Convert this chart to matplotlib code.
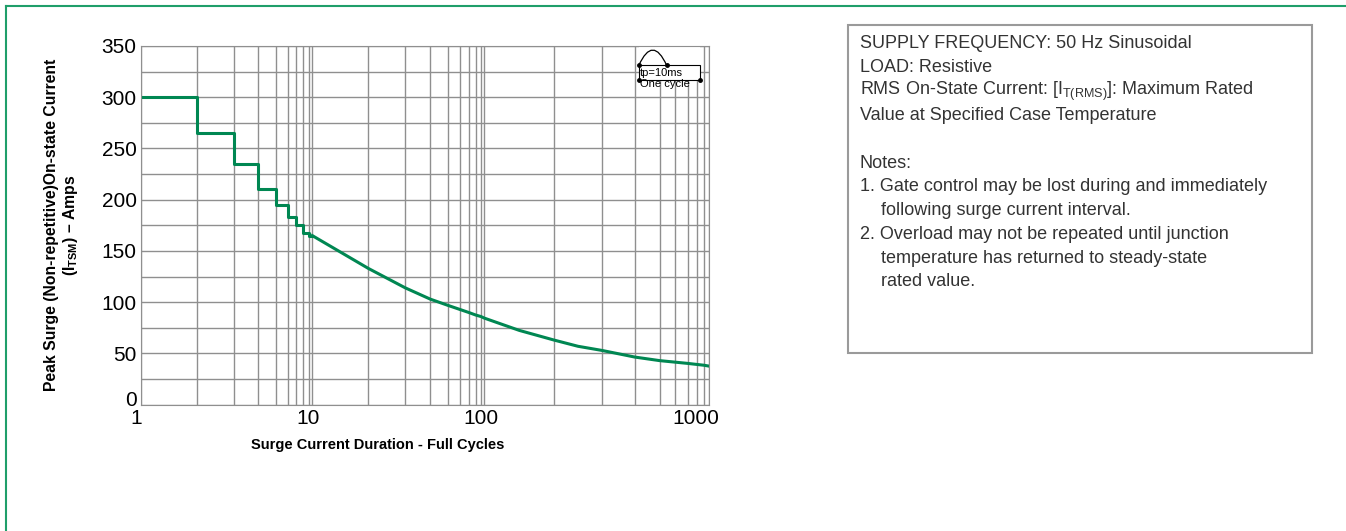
import numpy as np
import matplotlib
matplotlib.use("Agg")
import matplotlib.pyplot as plt
from matplotlib.lines import Line2D
from matplotlib.patches import Rectangle
from matplotlib.transforms import ScaledTranslation

plt.rcParams['font.family'] = ['Liberation Sans', 'DejaVu Sans']
plt.rcParams['mathtext.fontset'] = 'custom'
plt.rcParams['mathtext.rm'] = 'Liberation Sans'

# data
step_cycles = [1, 2, 3, 4, 5, 6, 7, 8, 9, 10]
step_amps = [300, 265, 235, 210, 195, 183, 175, 168, 165]
curve_cycles = [10, 20, 30, 40, 50, 60, 70, 80, 90, 100, 150, 200, 250, 300, 400, 500, 600, 700, 800, 900, 1000]
curve_amps = [165, 133, 114, 103, 97, 93, 90, 87.5, 86, 84.5, 72.5, 63, 57, 53, 46.5, 43, 41.5, 40.3, 39.3, 38.5, 37.7]

x_major = [1, 10, 100, 1000]
x_major_labels = ['1', '10', '100', '1000']
y_ticks = [0, 50, 100, 150, 200, 250, 300, 350]

# the printed grid is not a true log grid: pixel spots of each grid line
grid_vals = [1, 2, 3, 4, 5, 6, 7, 8, 9, 10, 20, 30, 40, 50, 60, 70, 80, 90, 100,
             200, 300, 400, 500, 600, 700, 800, 900, 1000]
grid_px = [140.7, 196.7, 234, 258, 275.7, 287.7, 296.3, 303, 308.7, 312.3,
           368.3, 405.3, 430.3, 447.7, 459.7, 468.7, 475.7, 481, 484.3,
           554.3, 601.7, 634.7, 659.7, 675.3, 687.7, 696.7, 704, 708.7]


def fwd(x):
    return np.interp(x, grid_vals, grid_px)


def inv(p):
    return np.interp(p, grid_px, grid_vals)


green = '#008752'
W, H = 1346, 531
fig = plt.figure(figsize=(W / 100, H / 100), dpi=100)

left, right, top, bottom = 140.7, 708.7, 46, 404.7
ax = fig.add_axes([left / W, 1 - bottom / H, (right - left) / W, (bottom - top) / H])
ax.set_xscale('function', functions=(fwd, inv))
ax.set_xlim(1, 1000)
ax.set_ylim(0, 350)

ax.set_xticks(x_major, [''] * 4)
ax.set_xticks(grid_vals, minor=True)
ax.set_yticks(y_ticks, [''] * len(y_ticks))
ax.set_yticks(np.arange(0, 351, 25), minor=True)
ax.tick_params(which='both', length=0)
ax.grid(True, which='both', color='#8f8f8f', lw=1.0)
ax.set_axisbelow(True)
for s in ax.spines.values():
    s.set_color('#8f8f8f')

# tick labels, nudged like the original
for v, lab, dx in zip(x_major, x_major_labels, [-5, -4, -3.5, -13]):
    tr = ax.get_xaxis_transform() + ScaledTranslation(dx / 100, -4 / 100, fig.dpi_scale_trans)
    ax.text(v, 0, lab, transform=tr, ha='center', va='top', fontsize=15)
for v in y_ticks:
    dy = 6 if v == 0 else 0
    tr = ax.get_yaxis_transform() + ScaledTranslation(-4 / 100, dy / 100, fig.dpi_scale_trans)
    ax.text(0, v, str(v), transform=tr, ha='right', va='center_baseline', fontsize=15)

ax.step(step_cycles, step_amps + [step_amps[-1]], where='post', color=green, lw=2.2)
ax.plot(curve_cycles, curve_amps, color=green, lw=2.2)

# one-cycle sketch in the corner
ta = ax.transAxes
ax.add_patch(Rectangle((0.877, 0.904), 0.108, 0.096, transform=ta, fc='white',
                       ec='none', zorder=1.5))
ax.add_patch(Rectangle((0.877, 0.904), 0.108, 0.042, transform=ta, fc='none',
                       ec='black', lw=0.8, zorder=1.6))
ax.annotate('', xy=(0.926, 0.946), xytext=(0.877, 0.946), xycoords=ta, textcoords=ta,
            arrowprops=dict(arrowstyle='-', connectionstyle='arc3,rad=-1.1',
                            shrinkA=0, shrinkB=0, lw=0.9, color='black'), zorder=6)
ax.plot([0.877, 0.926, 0.877, 0.985], [0.946, 0.946, 0.904, 0.904], 'o', ms=2.5,
        color='black', transform=ta, zorder=7, clip_on=False)
ax.text(0.879, 0.925, 'tp=10ms', transform=ta, fontsize=8, va='center', zorder=7)
ax.text(0.879, 0.893, 'One cycle', transform=ta, fontsize=8, va='center', zorder=7)

fig.text(378 / W, 1 - 445 / H, 'Surge Current Duration - Full Cycles',
         ha='center', va='center', fontsize=10.5, fontweight='bold')
fig.text(62 / W, 1 - 225 / H,
         'Peak Surge (Non-repetitive)On-state Current\n(I$_\\mathregular{TSM}$) \u2013 Amps',
         rotation=90, ha='center', va='center', ma='center', fontsize=11.3,
         fontweight='bold', linespacing=1.2)

# notes box
fig.add_artist(Rectangle((848 / W, 1 - 352.7 / H), (1311.7 - 848) / W, (352.7 - 25) / H,
                         transform=fig.transFigure, fc='none', ec='#9a9a9a', lw=1.5))
notes = [
    (0, 'SUPPLY FREQUENCY: 50 Hz Sinusoidal'),
    (0, 'LOAD: Resistive'),
    (0, 'RMS On-State Current: [I$_\\mathregular{T(RMS)}$]: Maximum Rated'),
    (0, 'Value at Specified Case Temperature'),
    (0, ''),
    (0, 'Notes:'),
    (0, '1. Gate control may be lost during and immediately'),
    (1, 'following surge current interval.'),
    (0, '2. Overload may not be repeated until junction'),
    (1, 'temperature has returned to steady-state'),
    (1, 'rated value.'),
]
for i, (ind, line) in enumerate(notes):
    x = 860 if ind == 0 else 880.7
    fig.text(x / W, 1 - (44 + i * 23.8) / H, line, fontsize=13, color='#333333',
             va='center', ha='left')

# green frame, top and left edges
fig.add_artist(Line2D([5.7 / W, 1], [1 - 5.7 / H] * 2, transform=fig.transFigure,
                      color='#1f9e6a', lw=1.5))
fig.add_artist(Line2D([5.7 / W] * 2, [0, 1 - 5.7 / H], transform=fig.transFigure,
                      color='#1f9e6a', lw=1.5))

fig.savefig('out.png', dpi=100)
